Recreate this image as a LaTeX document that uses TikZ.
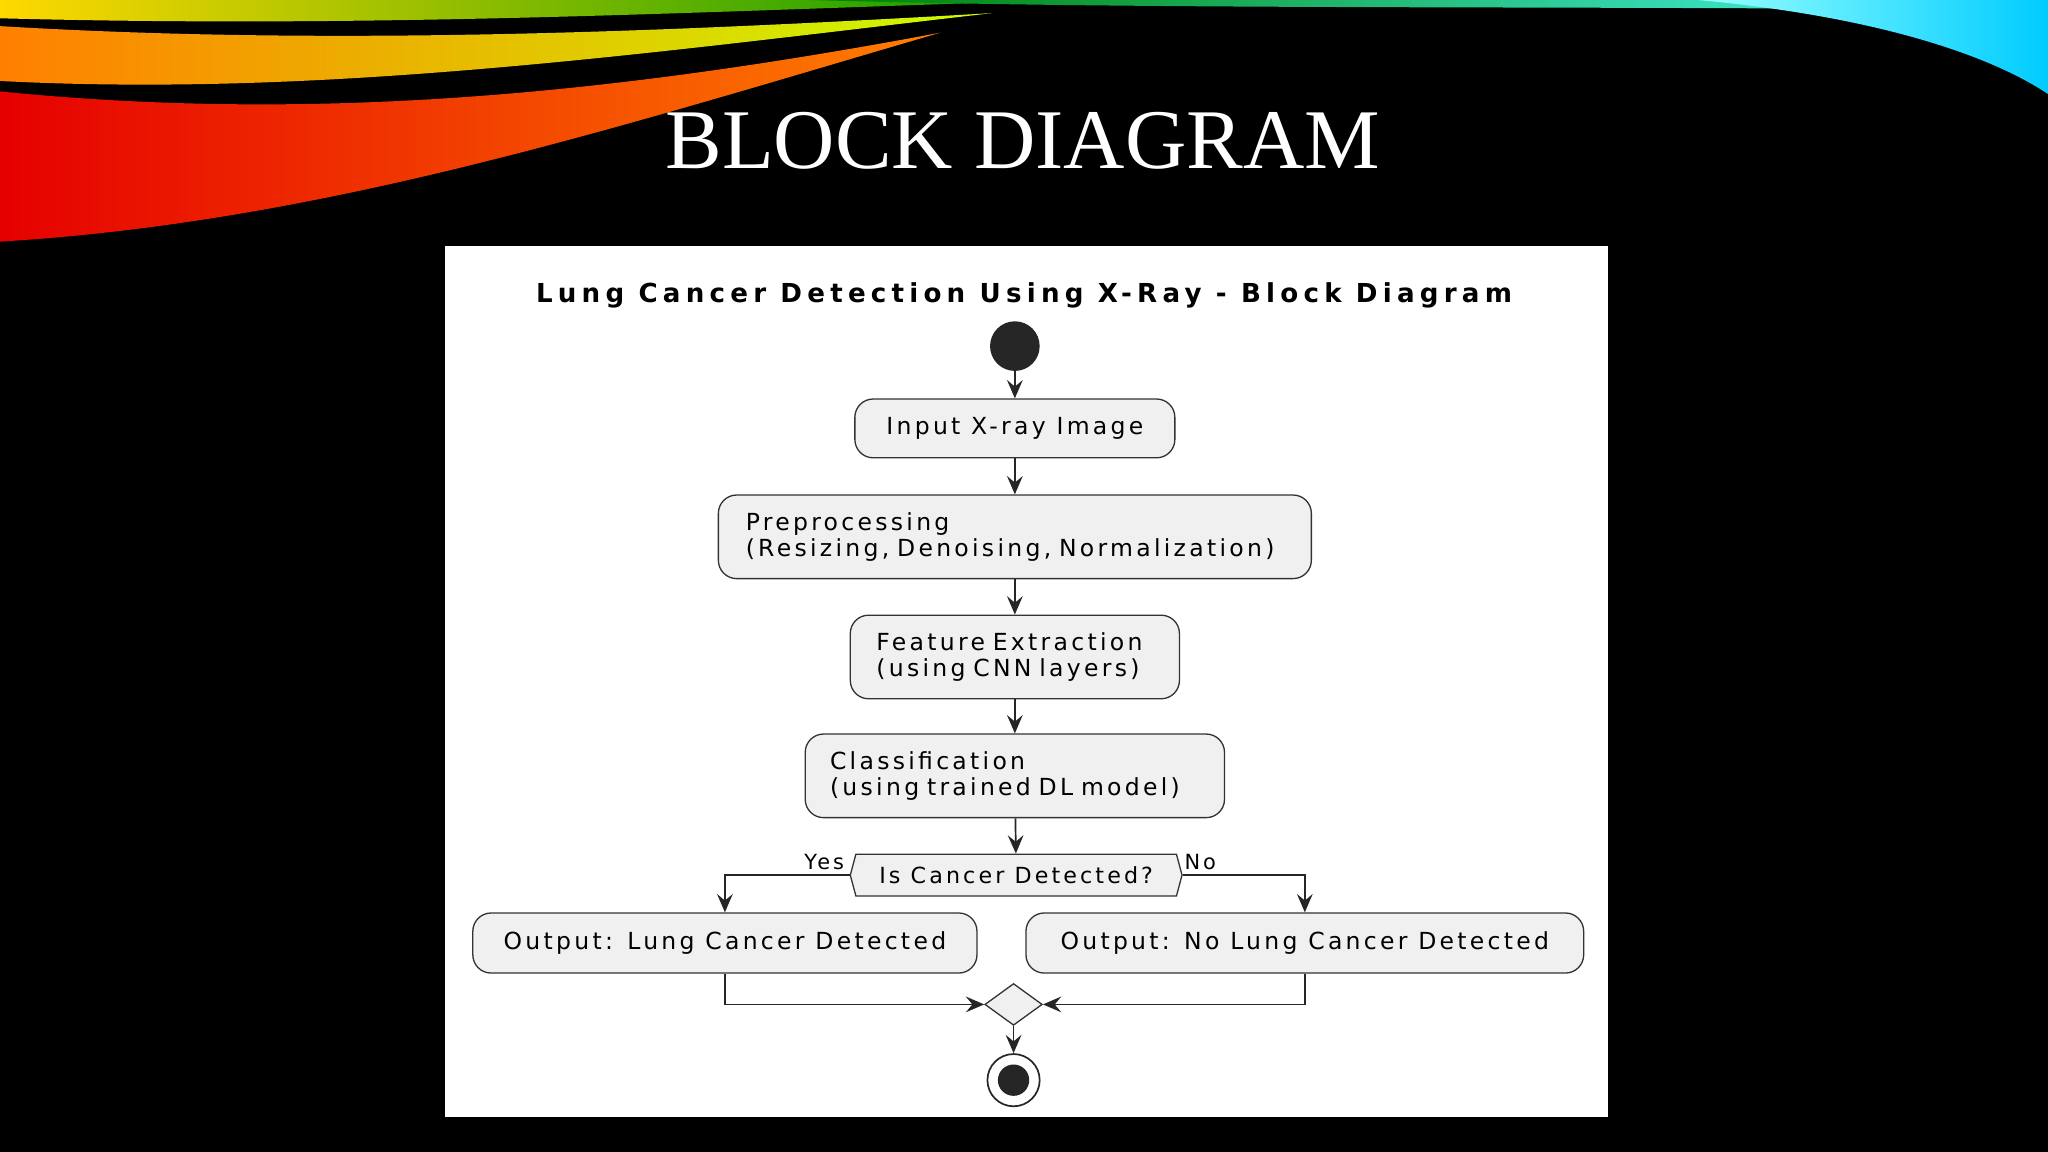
\documentclass[tikz,border=0pt]{standalone}
\usepackage{fontspec}
\setmainfont{Liberation Serif}
\newfontfamily\djsans[LetterSpace=14]{DejaVu Sans}
\newfontfamily\djtitle[LetterSpace=20]{DejaVu Sans}
\usetikzlibrary{arrows.meta,shapes.geometric,shapes.symbols}
\begin{document}
\begin{tikzpicture}[x=1pt,y=-1pt,
  box/.style={draw=black!80,line width=1pt,fill=black!6,rounded corners=14pt,font=\djsans\fontsize{18}{20}\selectfont,align=left,inner sep=0pt},
  arr/.style={-{Stealth[length=14pt,width=12pt,inset=5pt]},line width=1.3pt,black!85},
  lab/.style={font=\djsans\fontsize{16}{18}\selectfont,inner sep=0pt}]
\useasboundingbox (0,0) rectangle (1568,882);
\fill[black] (0,0) rectangle (1568,882);
% swooshes
\shade[left color=red!90!black,right color=orange] (0,70) -- (0,185) .. controls (250,170) and (480,95) .. (720,25) .. controls (480,70) and (250,95) .. (0,70);
\shade[left color=orange,right color=yellow!80!green] (0,20) -- (0,62) .. controls (250,75) and (500,40) .. (760,10) .. controls (500,25) and (250,35) .. (0,20);
\shade[left color=yellow!70!orange,right color=green!60!black] (0,0) -- (0,14) .. controls (300,22) and (550,8) .. (820,0) -- cycle;
\shade[left color=green!50!black,right color=cyan!70] (620,0) -- (1568,0) -- (1568,8) .. controls (1200,4) and (900,8) .. (620,0);
\shade[left color=cyan!40,right color=cyan!80!blue] (1300,0) -- (1568,0) -- (1568,72) .. controls (1520,40) and (1430,12) .. (1300,0);
\node[text=white,font=\fontsize{65}{67}\selectfont] (T) at (783,108) {BLOCK DIAGRAM};
\fill[white] (341,188) rectangle (1231,855);
\node[font=\djtitle\bfseries\fontsize{20}{22}\selectfont] (t2) at (784,226) {Lung Cancer Detection Using X-Ray - Block Diagram};
\fill[black!85] (777,265) circle (19);
\coordinate (s) at (777,284);
\node[box,minimum width=245pt,minimum height=45pt,align=center] (in) at (777,328) {Input X-ray Image};
\node[box,minimum width=454pt,minimum height=64pt,text width=412pt] (pre) at (777,411) {Preprocessing\\(Resizing, Denoising, Normalization)};
\node[box,minimum width=252pt,minimum height=64pt,text width=212pt] (fe) at (777,503) {Feature Extraction\\(using CNN layers)};
\node[box,minimum width=321pt,minimum height=64pt,text width=283pt] (cl) at (777,594) {Classification\\(using trained DL model)};
\node[draw=black!80,line width=1pt,fill=black!6,minimum width=254pt,minimum height=32pt,inner sep=0pt,font=\djsans\fontsize{17}{19}\selectfont,
  shape=signal,signal to=east and west,signal pointer angle=150] (d) at (778,670) {Is Cancer Detected?};
\node[box,minimum width=386pt,minimum height=46pt,align=center] (l) at (555,722) {Output: Lung Cancer Detected};
\node[box,minimum width=427pt,minimum height=46pt,align=center] (r) at (999,722) {Output: No Lung Cancer Detected};
\node[draw=black!80,line width=1pt,fill=black!6,diamond,minimum width=44pt,minimum height=32pt,inner sep=0pt] (m) at (776,769) {};
\node[draw=black!85,line width=1.3pt,circle,minimum size=40pt,inner sep=0pt] (e) at (776,827) {};
\fill[black!85] (e.center) circle (12);
\draw[arr] (s) -- (in);
\draw[arr] (in) -- (pre);
\draw[arr] (pre) -- (fe);
\draw[arr] (fe) -- (cl);
\draw[arr] (cl) -- (d);
\draw[arr] (d.west) -- (555,670) -- (l.north);
\draw[arr] (d.east) -- (999,670) -- (r.north);
\node[lab] (y) at (631,660) {Yes};
\node[lab] (n) at (919,660) {No};
\draw[arr] (l.south) -- (555,769) -- (m.west);
\draw[arr] (r.south) -- (999,769) -- (m.east);
\draw[arr] (m.south) -- (e.north);
\end{tikzpicture}
\end{document}
